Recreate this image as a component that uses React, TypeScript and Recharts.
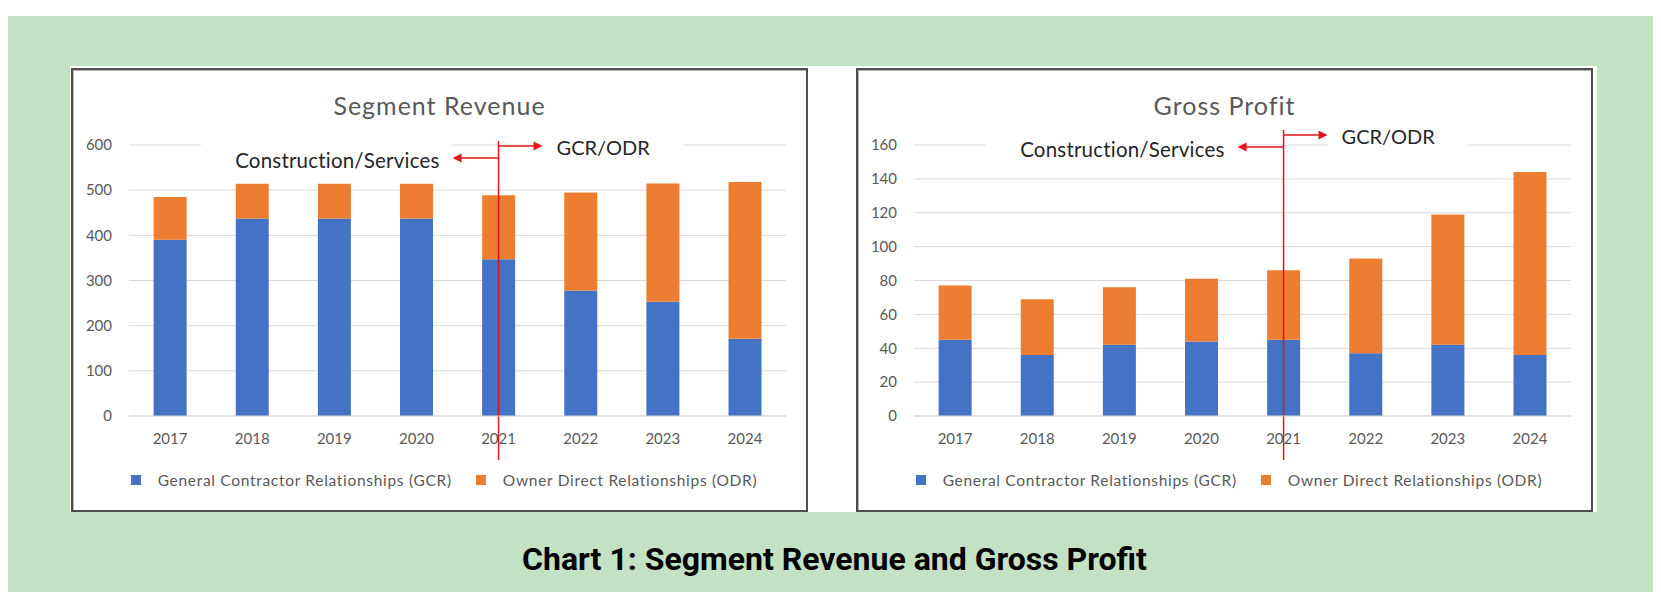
import { BarChart, Bar, XAxis, YAxis, CartesianGrid, Legend, ReferenceLine } from 'recharts';

const years = ['2017', '2018', '2019', '2020', '2021', '2022', '2023', '2024'];
const revenueGCR = [390, 437, 437, 437, 347, 278, 253, 171];
const revenueODR = [95, 77, 77, 77, 142, 217, 262, 347];
const profitGCR = [45, 36, 42, 44, 45, 37, 42, 36];
const profitODR = [32, 33, 34, 37, 41, 56, 77, 108];
const revenueTicks = [0, 100, 200, 300, 400, 500, 600];
const profitTicks = [0, 20, 40, 60, 80, 100, 120, 140, 160];

const gcrName = 'General Contractor Relationships (GCR)';
const odrName = 'Owner Direct Relationships (ODR)';
const splitYear = '2021';

const BLUE = '#4472c4';
const ORANGE = '#ed7d31';
const RED = '#e3151b';
const FONT = 'Lato, sans-serif';

const revenueData = years.map((y, i) => ({ year: y, gcr: revenueGCR[i], odr: revenueODR[i] }));
const profitData = years.map((y, i) => ({ year: y, gcr: profitGCR[i], odr: profitODR[i] }));

// offsets of the red marker, relative to the split line and the top of the plot
type Note = { lineTop: number; gcrY: number; consY: number };
const revenueNote: Note = { lineTop: -4, gcrY: 1, consY: 13 };
const profitNote: Note = { lineTop: -15, gcrY: -10, consY: 2 };

function arrow(x: number, y: number, dx: number) {
  const dir = dx > 0 ? 1 : -1;
  const tip = x + dx;
  return (
    <g>
      <line x1={x} y1={y} x2={tip - dir * 8} y2={y} stroke={RED} strokeWidth={1.5} />
      <polygon points={`${tip},${y} ${tip - dir * 9},${y - 4.5} ${tip - dir * 9},${y + 4.5}`} fill={RED} />
    </g>
  );
}

function splitMarker(props: any, note: Note) {
  const x = props.x1;
  const top = Math.min(props.y1, props.y2);
  const bottom = Math.max(props.y1, props.y2);
  return (
    <g>
      <rect x={x - 298} y={top + note.consY - 14} width={252} height={28} fill="#fff" />
      <rect x={x + 44} y={top + note.gcrY - 13} width={141} height={26} fill="#fff" />
      <line x1={x} y1={top + note.lineTop} x2={x} y2={bottom + 44} stroke={RED} strokeWidth={1.5} />
      {arrow(x, top + note.gcrY, 44)}
      {arrow(x, top + note.consY, -46)}
      <text x={x + 58} y={top + note.gcrY + 1} dominantBaseline="central" fontSize={20} fontFamily={FONT} fill="#262626">
        GCR/ODR
      </text>
      <text x={x - 59} y={top + note.consY + 2} dominantBaseline="central" textAnchor="end" fontSize={20.5} fontFamily={FONT} fill="#262626" letterSpacing={0.2}>
        Construction/Services
      </text>
    </g>
  );
}

function legendContent(props: any) {
  const items = props.payload || [];
  return (
    <div style={{ display: 'flex', justifyContent: 'center', marginLeft: 9, fontFamily: FONT, fontSize: 15.5, letterSpacing: 0.7, color: '#595959', lineHeight: '20px' }}>
      {items.map((it: any, i: number) => (
        <div key={it.value} style={{ display: 'flex', alignItems: 'center', marginLeft: i ? 24 : 0 }}>
          <span style={{ width: 10, height: 10, background: it.color, display: 'inline-block', marginRight: 17 }} />
          <span>{it.value}</span>
        </div>
      ))}
    </div>
  );
}

function Panel({ left, title, data, ticks, note }: { left: number; title: string; data: any[]; ticks: number[]; note: Note }) {
  const tick = { fontSize: 15, fill: '#595959', fontFamily: FONT };
  return (
    <div
      style={{
        position: 'absolute',
        left,
        top: 52,
        width: 737,
        height: 444,
        border: '2px solid #4d4d4d',
        boxSizing: 'border-box',
        background: '#fff',
        boxShadow: 'inset 1px 1px 0 #b5b5b5',
      }}
    >
      <div style={{ position: 'absolute', top: 20, left: 0, width: '100%', textAlign: 'center', fontFamily: FONT, fontSize: 25, letterSpacing: 1, lineHeight: '30px', color: '#595959' }}>
        {title}
      </div>
      <BarChart width={733} height={440} data={data} margin={{ top: 75, right: 20, left: 0, bottom: 0 }} barCategoryGap="30%">
        <CartesianGrid vertical={false} stroke="#d9d9d9" />
        <XAxis dataKey="year" tick={tick} tickLine={false} axisLine={{ stroke: '#d9d9d9' }} tickMargin={11} height={74} />
        <YAxis domain={[0, ticks[ticks.length - 1]]} ticks={ticks} tick={tick} tickLine={false} axisLine={false} tickMargin={11} width={56} interval={0} />
        <Legend content={legendContent} wrapperStyle={{ top: 400, left: 0, bottom: 'auto', width: 733, height: 20 }} />
        <Bar dataKey="gcr" name={gcrName} stackId="a" fill={BLUE} isAnimationActive={false} />
        <Bar dataKey="odr" name={odrName} stackId="a" fill={ORANGE} isAnimationActive={false} />
        <ReferenceLine x={splitYear} stroke={RED} shape={(p: any) => splitMarker(p, note)} />
      </BarChart>
    </div>
  );
}

export default function App() {
  return (
    <div style={{ paddingTop: 8, background: '#fff', width: 1653 }}>
      <div style={{ position: 'relative', width: 1653, height: 576, background: '#c3e1c3' }}>
        <div style={{ position: 'absolute', left: 62, top: 50, width: 1527, height: 446, background: '#fff' }} />
        <Panel left={63} title="Segment Revenue" data={revenueData} ticks={revenueTicks} note={revenueNote} />
        <Panel left={848} title="Gross Profit" data={profitData} ticks={profitTicks} note={profitNote} />
        <div
          style={{
            position: 'absolute',
            top: 523,
            left: 0,
            width: '100%',
            textAlign: 'center',
            fontFamily: 'Roboto, sans-serif',
            fontWeight: 700,
            fontSize: 32,
            lineHeight: '40px',
            color: '#000',
          }}
        >
          Chart 1: Segment Revenue and Gross Profit
        </div>
      </div>
    </div>
  );
}
